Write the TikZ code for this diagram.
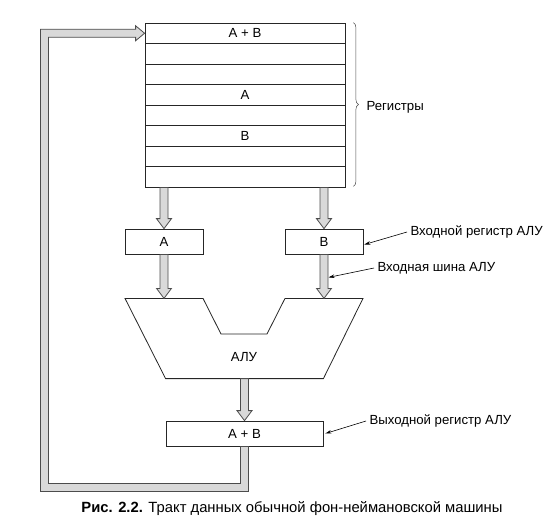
\documentclass[tikz,border=0pt]{standalone}
\usepackage{fontspec}
\setmainfont{Liberation Sans}
\usepackage{tikz}
\usetikzlibrary{calc}
\usetikzlibrary{arrows.meta,decorations.pathreplacing}

% wide grey bus arrow pointing down, from #1 to the tip #2
\newcommand{\busdown}[2]{%
\draw[bus] ($(#1)+(-4,0)$) -- ($(#2)+(-4,-10)$) -- ($(#2)+(-7.5,-10)$) -- (#2)
  -- ($(#2)+(7.5,-10)$) -- ($(#2)+(4,-10)$) -- ($(#1)+(4,0)$) -- cycle;}

\begin{document}
\begin{tikzpicture}[x=1pt,y=-1pt,
  box/.style={draw=black!85,line width=0.8pt,minimum height=25pt,inner sep=0pt},
  reg/.style={box,minimum width=200pt,minimum height=20.5pt},
  inreg/.style={box,minimum width=78pt},
  bus/.style={draw=black!70,fill=black!15,line width=0.8pt,line join=miter},
  lead/.style={-{Stealth[length=6pt,width=3.5pt]},line width=0.6pt},
  font=\fontsize{13.2}{15}\selectfont]
\useasboundingbox (0,0) rectangle (556,527);
% register file
\foreach \i/\txt in {1/A + B,2/,3/,4/A,5/,6/B,7/,8/}
  \node[reg] (r\i) at (245,{23+20.5*(\i-0.5)}) {\txt};
\draw[decorate,decoration={brace,amplitude=5pt},line width=0.5pt,black!70]
  ($(r1.north east)+(8,0)$) -- ($(r8.south east)+(8,-1)$);
\node[anchor=west] (regl) at (363,107) {Регистры};
% ALU input registers
\node[inreg] (ina) at (164,241.5) {A};
\node[inreg] (inb) at (324,241.5) {B};
% ALU
\coordinate (alua) at ($(ina.south)+(0,44)$);
\coordinate (alub) at ($(inb.south)+(0,44)$);
\node[box,minimum width=157pt] (out) at (244.5,433.5) {A + B};
\coordinate (alus) at ($(out.north)+(0,-42)$);
\draw[box] ($(alua)+(-39,0)$) -- ($(alua)+(39,0)$) -- (221,334) -- (267,334)
  -- ($(alub)+(-39,0)$) -- ($(alub)+(39,0)$) -- ($(out.north east)+(0,-42)$)
  -- ($(out.north west)+(0,-42)$) -- cycle;
\node (alu) at (244,357) {АЛУ};
% buses
\busdown{r8.south -| ina.north}{ina.north}
\busdown{r8.south -| inb.north}{inb.north}
\busdown{ina.south}{alua}
\busdown{inb.south}{alub}
\busdown{alus}{out.north}
% feedback to the registers
\coordinate (fb1) at ($(out.south)+(0,41)$);
\coordinate (fb2) at ($(fb1)+(-200,0)$);
\coordinate (fb3) at (fb2 |- r1.west);
\coordinate (fbh) at ($(r1.west)+(-9,0)$);
\draw[bus] ($(out.south)+(4,0)$) -- ($(fb1)+(4,4)$) -- ($(fb2)+(-4,4)$)
  -- ($(fb3)+(-4,-4)$) -- ($(fbh)+(0,-4)$) -- ($(fbh)+(0,-7.5)$) -- (r1.west)
  -- ($(fbh)+(0,7.5)$) -- ($(fbh)+(0,4)$) -- ($(fb3)+(4,4)$) -- ($(fb2)+(4,-4)$)
  -- ($(fb1)+(-4,-4)$) -- ($(out.south)+(-4,0)$) -- cycle;
% labels
\node[anchor=west] (linreg) at (407,232) {Входной регистр АЛУ};
\node[anchor=west] (lbus) at (374,268) {Входная шина АЛУ};
\node[anchor=west] (loutreg) at (366,421) {Выходной регистр АЛУ};
\draw[lead] (linreg.west) -- ($(inb.east)+(1,3)$);
\draw[lead] (lbus.west) -- ($(inb.south)+(4.5,23)$);
\draw[lead] (loutreg.west) -- ($(out.east)+(2,0)$);
\node[font=\fontsize{14.8}{17}\selectfont] (cap) at (292,509)
  {\textbf{Рис. 2.2.} Тракт данных обычной фон-неймановской машины};
\end{tikzpicture}
\end{document}
